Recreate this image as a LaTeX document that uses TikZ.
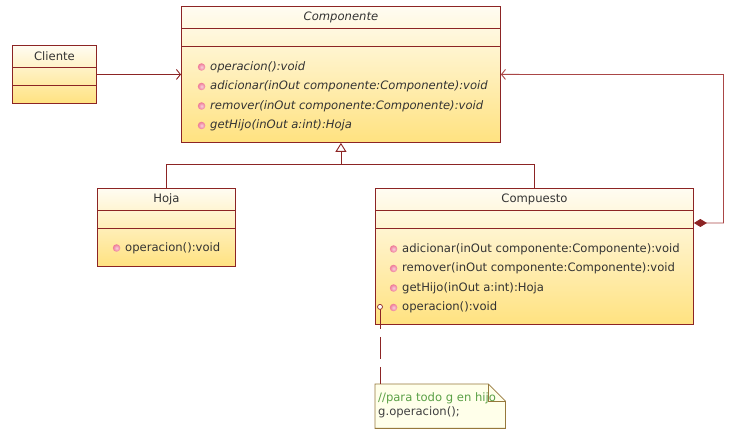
\documentclass[tikz,border=0pt]{standalone}
\usepackage{fontspec}
\setmainfont{DejaVu Sans}
\usetikzlibrary{arrows.meta,calc,positioning}

\definecolor{umlred}{RGB}{140,36,36}
\definecolor{linkred}{RGB}{170,70,70}
\definecolor{umltop}{RGB}{255,252,242}
\definecolor{umlbottom}{RGB}{255,226,128}
\definecolor{opdot}{RGB}{238,120,150}
\definecolor{notefill}{RGB}{255,255,234}
\definecolor{noteline}{RGB}{150,120,60}
\definecolor{notegreen}{RGB}{90,160,70}

\newcommand\umlfont{\fontsize{11.6}{14}\selectfont}
% two compartment lines below the class name
\newcommand\slots[1]{%
  \draw[umlline] ([yshift=-22pt]#1.north west) -- ([yshift=-22pt]#1.north east);
  \draw[umlline] ([yshift=-40pt]#1.north west) -- ([yshift=-40pt]#1.north east);}

\tikzset{
  umlline/.style   = {draw=umlred, line width=0.9pt},
  classbox/.style  = {umlline, top color=umltop, bottom color=umlbottom,
                      inner sep=0pt, anchor=north west},
  classname/.style = {font=\umlfont, text=black!80, inner sep=0pt},
  opbullet/.style  = {circle, inner sep=0pt, minimum size=7.5pt,
                      inner color=opdot!35!white, outer color=opdot},
  op/.style        = {anchor=west, inner sep=0pt, font=\umlfont, text=black!80,
                      label={[opbullet, label distance=4.5pt]left:{}}},
  assoc/.style     = {umlline, -{Straight Barb[length=4pt,width=10pt]}},
  gen/.style       = {umlline, -{Triangle[open,length=9pt,width=11pt,fill=white]}},
  compo/.style     = {draw=linkred, line width=0.9pt,
                      {Diamond[length=13pt,width=8pt,fill=umlred,color=umlred]}-{Straight Barb[length=4pt,width=10pt]}}
}

\begin{document}
\begin{tikzpicture}[x=1pt,y=-1pt]
  \useasboundingbox (0,0) rectangle (731,435);

  % classes
  \node[classbox, minimum width=84pt,  minimum height=58pt]  (cliente)    at (12,45)  {};
  \node[classbox, minimum width=319pt, minimum height=136pt] (componente) at (181,6)  {};
  \node[classbox, minimum width=138pt, minimum height=78pt]  (hoja)       at (97,188) {};
  \node[classbox, minimum width=318pt, minimum height=136pt] (compuesto)  at (375,188) {};
  \slots{cliente} \slots{componente} \slots{hoja} \slots{compuesto}

  \node[classname] (clienteN)    at ([yshift=-11pt]cliente.north)    {Cliente};
  \node[classname] (componenteN) at ([yshift=-11.5pt]componente.north) {\itshape Componente};
  \node[classname] (hojaN)       at ([yshift=-11pt]hoja.north)       {Hoja};
  \node[classname] (compuestoN)  at ([yshift=-11pt]compuesto.north)  {Compuesto};

  \foreach \m [count=\i] in {{operacion():void},
      {adicionar(inOut componente:Componente):void},
      {remover(inOut componente:Componente):void},
      {getHijo(inOut a:int):Hoja}}
    \node[op, font=\umlfont\itshape] (componente-op\i)
      at ([xshift=29pt,yshift={-61pt-19.5pt*(\i-1)}]componente.north west) {\m};

  \node[op] (hoja-op1) at ([xshift=28pt,yshift=-60pt]hoja.north west) {operacion():void};

  \foreach \m [count=\i] in {{adicionar(inOut componente:Componente):void},
      {remover(inOut componente:Componente):void},
      {getHijo(inOut a:int):Hoja},
      {operacion():void}}
    \node[op] (compuesto-op\i)
      at ([xshift=27pt,yshift={-61pt-19.5pt*(\i-1)}]compuesto.north west) {\m};

  % relations
  \draw[assoc] (cliente.east) -- (cliente.east -| componente.west);
  \coordinate (genjoin) at ([yshift=-22pt]componente.south);
  \draw[umlline] (hoja.north) |- (genjoin) -| (compuesto.north);
  \draw[gen] (genjoin) -- (componente.south);
  \coordinate (bucle) at (723.5,74.5);
  \draw[compo] ([yshift=-35pt]compuesto.north east) -| (bucle) -- (componente.east);

  % note
  \node[minimum width=130pt, minimum height=44pt, inner sep=0pt, anchor=north west] (nota) at (375,384) {};
  \draw[noteline, fill=notefill, line width=0.8pt] (nota.north west) -- ([xshift=-17pt]nota.north east)
    -- ([yshift=-17pt]nota.north east) -- (nota.south east) -- (nota.south west) -- cycle;
  \draw[noteline, line width=0.8pt] ([xshift=-17pt]nota.north east) -- ([xshift=-17pt,yshift=-17pt]nota.north east)
    -- ([yshift=-17pt]nota.north east);
  \node[font=\umlfont, text=black!75, align=left, anchor=west, inner sep=0pt] (notaT)
    at ([xshift=3pt,yshift=1pt]nota.west) {\textcolor{notegreen}{//para todo g en hijo}\\g.operacion();};

  \draw[umlline, dash pattern=on 22pt off 8pt] ([xshift=5pt,yshift=18pt]compuesto.south west) -- (nota.north west -| 380,0);
  \node[circle, draw=umlred, fill=white, line width=0.7pt, inner sep=0pt, minimum size=5pt] (opref)
    at ([xshift=5pt,yshift=18pt]compuesto.south west) {};
\end{tikzpicture}
\end{document}
